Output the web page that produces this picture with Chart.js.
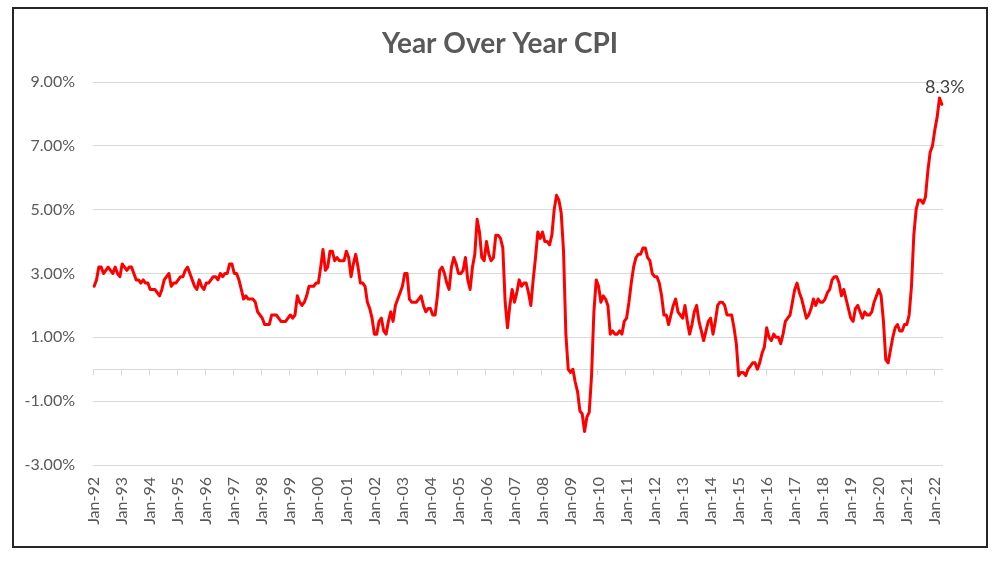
<!DOCTYPE html>
<html>
<head>
<meta charset="utf-8">
<title>Year Over Year CPI</title>
<script src="https://cdn.jsdelivr.net/npm/chart.js@4.4.1/dist/chart.umd.min.js"></script>
<style>
    html, body { margin: 0; padding: 0; background: #fff; }
    #frame { position: absolute; left: 12px; top: 7px; width: 976px; height: 541px; border: 2px solid #262626; box-sizing: border-box; }
    #cpiChart { position: absolute; left: 0; top: 0; }
</style>
</head>
<body>
<div id="frame"></div>
<canvas id="cpiChart" width="1000" height="566"></canvas>
<script>

// year over year change of CPI, monthly, Jan-92 .. Apr-22 (percent)
const cpiYoY = [
    2.6, 2.8, 3.2, 3.2, 3.0, 3.1, 3.2, 3.1, 3.0, 3.2, 3.0, 2.9,     // 1992
    3.3, 3.2, 3.1, 3.2, 3.2, 3.0, 2.8, 2.8, 2.7, 2.8, 2.7, 2.7,     // 1993
    2.5, 2.5, 2.5, 2.4, 2.3, 2.5, 2.8, 2.9, 3.0, 2.6, 2.7, 2.7,     // 1994
    2.8, 2.9, 2.9, 3.1, 3.2, 3.0, 2.8, 2.6, 2.5, 2.8, 2.6, 2.5,     // 1995
    2.7, 2.7, 2.8, 2.9, 2.9, 2.8, 3.0, 2.9, 3.0, 3.0, 3.3, 3.3,     // 1996
    3.0, 3.0, 2.8, 2.5, 2.2, 2.3, 2.2, 2.2, 2.2, 2.1, 1.8, 1.7,     // 1997
    1.6, 1.4, 1.4, 1.4, 1.7, 1.7, 1.7, 1.6, 1.5, 1.5, 1.5, 1.6,     // 1998
    1.7, 1.6, 1.7, 2.3, 2.1, 2.0, 2.1, 2.3, 2.6, 2.6, 2.6, 2.7,     // 1999
    2.7, 3.2, 3.75, 3.1, 3.2, 3.7, 3.7, 3.4, 3.5, 3.4, 3.4, 3.4,    // 2000
    3.7, 3.5, 2.9, 3.3, 3.6, 3.2, 2.7, 2.7, 2.6, 2.1, 1.9, 1.6,     // 2001
    1.1, 1.1, 1.5, 1.6, 1.2, 1.1, 1.5, 1.8, 1.5, 2.0, 2.2, 2.4,     // 2002
    2.6, 3.0, 3.0, 2.2, 2.1, 2.1, 2.1, 2.2, 2.3, 2.0, 1.8, 1.9,     // 2003
    1.9, 1.7, 1.7, 2.3, 3.1, 3.2, 3.0, 2.7, 2.5, 3.2, 3.5, 3.3,     // 2004
    3.0, 3.0, 3.1, 3.5, 2.8, 2.5, 3.2, 3.6, 4.7, 4.3, 3.5, 3.4,     // 2005
    4.0, 3.6, 3.4, 3.5, 4.2, 4.2, 4.1, 3.8, 2.1, 1.3, 2.0, 2.5,     // 2006
    2.1, 2.4, 2.8, 2.6, 2.7, 2.7, 2.4, 2.0, 2.8, 3.5, 4.3, 4.1,     // 2007
    4.3, 4.0, 4.0, 3.9, 4.2, 5.0, 5.45, 5.3, 4.9, 3.7, 1.1, 0.0,    // 2008
    -0.1, 0.0, -0.4, -0.7, -1.3, -1.4, -1.95, -1.5, -1.35, -0.2, 1.8, 2.8,   // 2009
    2.6, 2.1, 2.3, 2.2, 2.0, 1.1, 1.2, 1.1, 1.1, 1.2, 1.1, 1.5,     // 2010
    1.6, 2.1, 2.7, 3.2, 3.5, 3.6, 3.6, 3.8, 3.8, 3.5, 3.4, 3.0,     // 2011
    2.9, 2.9, 2.7, 2.3, 1.7, 1.7, 1.4, 1.7, 2.0, 2.2, 1.8, 1.7,     // 2012
    1.6, 2.0, 1.5, 1.1, 1.4, 1.8, 2.0, 1.5, 1.2, 0.9, 1.2, 1.5,     // 2013
    1.6, 1.1, 1.5, 2.0, 2.1, 2.1, 2.0, 1.7, 1.7, 1.7, 1.3, 0.8,     // 2014
    -0.2, -0.1, -0.1, -0.2, 0.0, 0.1, 0.2, 0.2, 0.0, 0.2, 0.5, 0.7, // 2015
    1.3, 1.0, 0.9, 1.1, 1.0, 1.0, 0.8, 1.1, 1.5, 1.6, 1.7, 2.1,     // 2016
    2.5, 2.7, 2.4, 2.2, 1.9, 1.6, 1.7, 1.9, 2.2, 2.0, 2.2, 2.1,     // 2017
    2.1, 2.2, 2.4, 2.5, 2.8, 2.9, 2.9, 2.7, 2.3, 2.5, 2.2, 1.9,     // 2018
    1.6, 1.5, 1.9, 2.0, 1.8, 1.6, 1.8, 1.7, 1.7, 1.8, 2.1, 2.3,     // 2019
    2.5, 2.3, 1.5, 0.3, 0.2, 0.6, 1.0, 1.3, 1.4, 1.2, 1.2, 1.4,     // 2020
    1.4, 1.7, 2.6, 4.2, 5.0, 5.3, 5.3, 5.2, 5.4, 6.2, 6.8, 7.0,     // 2021
    7.5, 7.9, 8.5, 8.3                                              // 2022
];

const monthNames = ["Jan", "Feb", "Mar", "Apr", "May", "Jun", "Jul", "Aug", "Sep", "Oct", "Nov", "Dec"];
const yearLabels = ["92", "93", "94", "95", "96", "97", "98", "99", "00", "01", "02", "03", "04", "05", "06", "07",
                    "08", "09", "10", "11", "12", "13", "14", "15", "16", "17", "18", "19", "20", "21", "22"];

const yTicks = { min: -3, max: 9, step: 2 };
const lastLabel = "8.3%";

const labels = [];

for(const yr of yearLabels){

    for(const m of monthNames){

        if(labels.length < cpiYoY.length)
            labels.push(`${m}-${yr}`);

    }

}

const textColor = "#595959";
const gridColor = "#d9d9d9";

// horizontal axis crosses at 0 with a tick mark on every January
const zeroAxis = {

    id: "zeroAxis",

    beforeDatasetsDraw(chart){

        const { ctx, chartArea, scales } = chart;
        const y0 = Math.round(scales.y.getPixelForValue(0)) + 0.5;
        const half = (scales.x.getPixelForValue(1) - scales.x.getPixelForValue(0)) / 2;

        ctx.save();
        ctx.strokeStyle = gridColor;
        ctx.lineWidth = 1;
        ctx.beginPath();
        ctx.moveTo(chartArea.left, y0);
        ctx.lineTo(chartArea.right, y0);

        for(let i = 0; i < labels.length; i += 12){

            const tx = Math.round(scales.x.getPixelForValue(i) - half) + 0.5;
            ctx.moveTo(tx, y0);
            ctx.lineTo(tx, y0 + 6);

        }

        ctx.stroke();
        ctx.restore();

    }

};

// value label on the last point
const lastValue = {

    id: "lastValue",

    afterDatasetsDraw(chart){

        const points = chart.getDatasetMeta(0).data;
        const pt = points[points.length - 1];
        const ctx = chart.ctx;

        ctx.save();
        ctx.fillStyle = "#404040";
        ctx.font = "18px Lato";
        ctx.textAlign = "center";
        ctx.textBaseline = "bottom";
        ctx.fillText(lastLabel, pt.x + 3, pt.y - 8);
        ctx.restore();

    }

};

new Chart(document.getElementById("cpiChart"), {

    type: "line",

    data: {

        labels,

        datasets: [{

            label: "CPI YoY",
            data: cpiYoY,

            borderColor: "#ff0000",
            backgroundColor: "#ff0000",
            borderWidth: 3,
            borderJoinStyle: "round",
            borderCapStyle: "round",

            pointRadius: 0,
            tension: 0,
            fill: false

        }]

    },

    options: {

        responsive: false,
        animation: false,
        devicePixelRatio: 1,

        layout: {
            padding: { top: 15, right: 0, bottom: 0, left: 0 }
        },

        plugins: {

            legend: { display: false },
            tooltip: { enabled: false },

            title: {
                display: true,
                text: "Year Over Year CPI",
                color: textColor,
                font: { family: "Lato", size: 28, weight: "bold" },
                padding: { top: 12, bottom: 21.4 }
            }

        },

        scales: {

            x: {

                type: "category",
                offset: true,

                grid: { display: false, drawTicks: false },
                border: { display: false },

                ticks: {
                    autoSkip: false,
                    minRotation: 90,
                    maxRotation: 90,
                    padding: 12,
                    color: textColor,
                    font: { family: "Lato", size: 16 },
                    callback: function(value, index){
                        return index % 12 === 0 ? this.getLabelForValue(value) : "";
                    }
                },

                afterFit: scale => { scale.height = 101; }

            },

            y: {

                min: yTicks.min,
                max: yTicks.max,

                grid: { color: gridColor, lineWidth: 1, drawTicks: false },
                border: { display: false },

                ticks: {
                    stepSize: yTicks.step,
                    padding: 18,
                    color: textColor,
                    font: { family: "Lato", size: 16 },
                    callback: v => v.toFixed(2) + "%"
                },

                afterFit: scale => { scale.width = 93; }

            },

            // empty right-hand axis, only reserves the margin on the right
            yRight: {

                position: "right",
                min: yTicks.min,
                max: yTicks.max,

                grid: { display: false, drawTicks: false },
                border: { display: false },
                ticks: { display: false },

                afterFit: scale => { scale.width = 57; }

            }

        }

    },

    plugins: [zeroAxis, lastValue]

});

</script>
</body>
</html>
